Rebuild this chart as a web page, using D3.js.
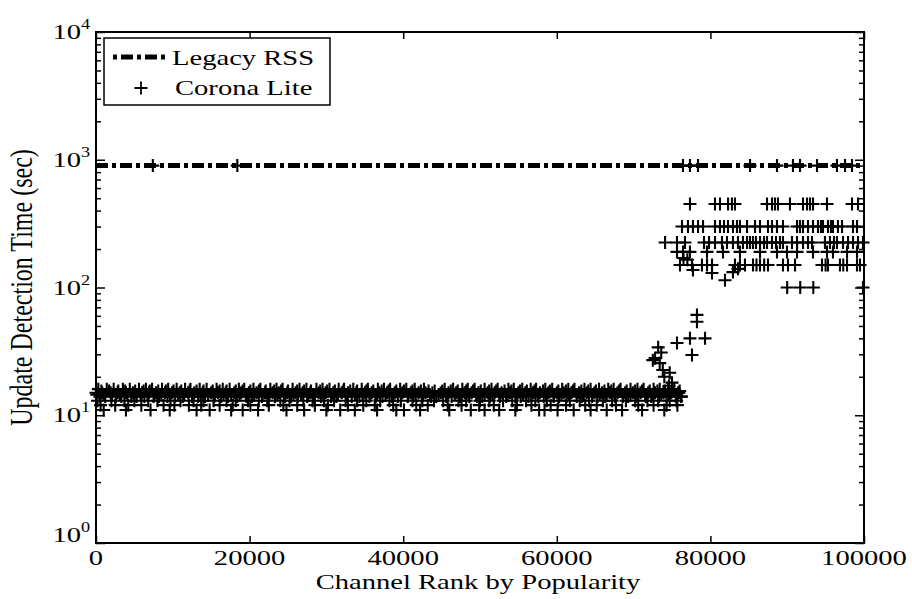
<!DOCTYPE html>
<html>
<head>
<meta charset="utf-8">
<script src="https://cdn.jsdelivr.net/npm/d3@7"></script>
<style>
  body { margin: 0; background: #fff; }
  text { font-family: "Liberation Serif", "Times New Roman", serif; fill: #000; }
</style>
</head>
<body>
<div id="chart"></div>
<script>
// ---- data ----
var xTicks = [0, 20000, 40000, 60000, 80000, 100000];
var yExponents = [0, 1, 2, 3, 4];

var legacyRanks = [0, 100000];
var legacyValues = [900, 900];

// Corona Lite: popular channels, grouped by detection time level (sec)
var bandLevels = [16, 15.5, 15, 14.5, 14, 13, 12, 11];
var bandRanks = [
  [300, 1400, 2300, 3500, 4400, 5600, 6500, 7300, 8600, 9400, 10500, 11600, 12300, 13500, 14400, 15700, 16500, 17400, 18600, 19300,
   20500, 21400, 22700, 23500, 24300, 25600, 26500, 27400, 28700, 29500, 30400, 31600, 32300, 33500, 34600, 35400, 36700, 37500, 38300, 39600,
   40400, 41500, 42700, 45400, 46500, 47700, 48400, 49300, 50600, 51500, 52300, 53700, 54400, 55500, 56600, 57300, 58500, 59400,
   60700, 61500, 62300, 63600, 64400, 65500, 66700, 67400, 68300, 69600, 70500, 71300, 72600, 73400, 74500, 75300],
  [700, 1700, 2900, 3800, 5100, 6200, 7000, 8100, 9100, 10100, 11100, 12200, 13100, 14000, 15200, 16100, 17000, 18200, 19100, 20100,
   21200, 22100, 23200, 24100, 25000, 26200, 27100, 28000, 29200, 30100, 31100, 32200, 33100, 34000, 35200, 36100, 37200, 38100, 39100, 40100,
   41200, 42300, 43300, 44100, 45100, 46200, 47100, 48200, 49100, 50100, 51200, 52100, 53200, 54100, 55200, 56100, 57100, 58200, 59100, 60200,
   61200, 62100, 63200, 64100, 65100, 66200, 67100, 68100, 69100, 70200, 71100, 72100, 73100, 74100, 75100, 76000],
  [0, 800, 1900, 2800, 3900, 4800, 6000, 6900, 7800, 9000, 9900, 10900, 12000, 12800, 13900, 15000, 15900, 16900, 18000, 18900,
   19900, 20900, 22000, 23000, 23800, 24900, 26000, 26900, 27900, 29000, 29900, 30900, 32000, 32800, 33900, 35000, 35900, 36900, 37900, 38900,
   39900, 41000, 42000, 42900, 43800, 44900, 45900, 46900, 48000, 48900, 49800, 51000, 51900, 52800, 53900, 55000, 55900, 56900, 57800, 58900,
   60000, 60900, 61900, 62900, 63900, 64900, 65900, 66900, 67900, 68900, 69900, 70900, 71900, 72800, 73900, 74900, 75800],
  [100, 1000, 2100, 3100, 4100, 5000, 5800, 6700, 7600, 8500, 9600, 10700, 11500, 12600, 13600, 14600, 15500, 16600, 17600, 18700,
   19500, 20600, 21700, 22600, 23600, 24500, 25700, 26700, 27600, 28500, 29600, 30700, 31500, 32600, 33700, 34700, 35700, 36600, 37700, 38700,
   39700, 40700, 41600, 42600, 43500, 44600, 45700, 46700, 47600, 48500, 49500, 50600, 51600, 52500, 53600, 54700, 55600, 56600, 57500, 58600,
   59600, 60600, 61600, 62600, 63500, 64600, 65600, 66500, 67500, 68600, 69600, 70600, 71500, 72500, 73600, 74600, 75600],
  [500, 1200, 2600, 3300, 4600, 5300, 6300, 7500, 8200, 9300, 10300, 11300, 12500, 13300, 14200, 15400, 16300, 17200, 18400, 19600,
   20300, 21600, 22400, 23300, 24600, 25400, 26300, 27500, 28300, 29300, 30600, 31300, 32600, 33300, 34300, 35600, 36400, 37300, 38500, 39300,
   40600, 41300, 42400, 43600, 44300, 45600, 46300, 47400, 48600, 49600, 50300, 51300, 52600, 53400, 54600, 55300, 56300, 57600, 58300, 59600,
   60300, 61300, 62600, 63300, 64600, 65300, 66300, 67600, 68600, 69300, 70300, 71600, 72300, 73300, 74300, 75500, 76200],
  [200, 2000, 3700, 5000, 6800, 8000, 9700, 11000, 12700, 14000, 15300, 17000, 18200, 19800, 21200, 22300, 24000, 25200, 27000, 28200,
   29700, 31000, 32500, 34000, 35200, 37000, 38200, 39700, 41200, 42500, 44000, 45200, 47200, 48200, 50000, 51200, 53000, 54200, 56000, 57200,
   58700, 60200, 61700, 63000, 64200, 66000, 67200, 69000, 70200, 71800, 73200, 74700, 75600],
  [600, 2500, 4200, 5900, 8800, 10200, 12100, 13700, 16100, 17800, 20100, 22500, 24400, 26200, 28500, 30200, 32800, 34800, 36300, 38700,
   41700, 43200, 45800, 47600, 49900, 51800, 54800, 56700, 59200, 61200, 63700, 65200, 67700, 70600, 72600, 74300, 75700],
  [1000, 3900, 7100, 9600, 13100, 14800, 17600, 19100, 21100, 24800, 27100, 30000, 31800, 33700, 36600, 39100, 40100, 42200, 46000, 48800,
   50600, 52500, 54600, 57700, 58400, 60100, 62200, 64400, 66500, 68500, 71100, 74000]
];

// less popular channels, grouped by level
var upperLevels = [450, 300, 225, 190, 150, 100];
var upperRanks = [
  [77340, 80600, 81250, 82300, 82800, 83200, 87370, 88020, 88410, 88800, 90360, 92060, 92580, 92970, 93360, 95180, 98440, 99220],
  [76300, 77080, 77730, 78390, 79040, 80600, 81250, 81770, 82290, 82940, 83460, 83850, 84770, 85810, 86460, 87500, 88020, 88670, 89450,
   91280, 91670, 92060, 92710, 93360, 94010, 94400, 94660, 95310, 95700, 95960, 96610, 97140, 98570, 99090],
  [74100, 75650, 76690, 79170, 79820, 80600, 81510, 82160, 82940, 83590, 84240, 84770, 85160, 85550, 85940, 86460, 86980, 87370, 88020,
   88540, 89060, 89450, 90620, 91280, 92060, 92710, 93230, 94920, 95570, 96090, 96480, 97270, 97920, 98570, 99220, 99870],
  [75650, 76430, 77340, 79560, 81640, 83850, 86460, 88670, 89970, 91280, 93360, 95180, 95960, 97790, 99090],
  [76040, 77600, 78900, 79560, 80210, 83200, 83850, 84500, 85550, 86000, 86460, 87000, 87500, 89450, 90100, 91020, 94530, 95000, 95310, 96870,
   97300, 97790, 99090, 99480],
  [90000, 91700, 93400, 99870]
];

// transition region and scattered points
var scatterRanks = [72500, 72800, 73200, 73400, 73600, 73800, 74000, 74600, 74700, 75000, 75650, 75900, 76200, 77340, 77600, 78250, 78250, 79300,
  76500, 77000, 77730, 80210, 81900, 82940, 83590];
var scatterValues = [27, 28, 34, 25.6, 31, 22.6, 20, 17, 21.5, 18, 36.8, 15, 14, 40, 29.6, 61, 54, 40,
  170, 165, 137, 130, 114, 132, 140];

// Corona Lite points that coincide with the legacy 900 s line
var slowRanks = [7400, 18400, 76430, 77340, 78390, 85160, 88670, 90750, 91670, 93880, 96480, 97530, 98440];

// ---- chart ----
var svgWidth = 912;
var svgHeight = 599;
var margin = { top: 32, right: 48, bottom: 56, left: 96 };
var width = svgWidth - margin.left - margin.right;
var height = svgHeight - margin.top - margin.bottom;
var stretch = 1.3; // text in the source figure is widened

var svg = d3.select("#chart")
  .append("svg")
  .attr("width", svgWidth)
  .attr("height", svgHeight);

var chartGroup = svg.append("g")
  .attr("transform", `translate(${margin.left}, ${margin.top})`);

var x = d3.scaleLinear().domain([0, 100000]).range([0, width]);
var y = d3.scaleLog().domain([1, 10000]).range([height, 0]);

// minor log ticks
var minorTicks = [];
yExponents.slice(0, -1).forEach(function(e) {
  for (var k = 2; k <= 9; k++) minorTicks.push(k * Math.pow(10, e));
});
var majorTicks = yExponents.map(function(e) { return Math.pow(10, e); });

function tickAxis(axis, cls) {
  var g = chartGroup.append("g").attr("class", cls).call(axis);
  g.select(".domain").remove();
  g.selectAll("line").attr("stroke", "#000").attr("stroke-width", 1.5);
  return g;
}

tickAxis(d3.axisBottom(x).tickValues(xTicks).tickSize(-7).tickFormat(""), "xb")
  .attr("transform", `translate(0, ${height})`);
tickAxis(d3.axisTop(x).tickValues(xTicks).tickSize(-7).tickFormat(""), "xt");
tickAxis(d3.axisLeft(y).tickValues(majorTicks).tickSize(-9).tickFormat(""), "yl");
tickAxis(d3.axisLeft(y).tickValues(minorTicks).tickSize(-5).tickFormat(""), "ylm");
tickAxis(d3.axisRight(y).tickValues(majorTicks).tickSize(-9).tickFormat(""), "yr")
  .attr("transform", `translate(${width}, 0)`);
tickAxis(d3.axisRight(y).tickValues(minorTicks).tickSize(-5).tickFormat(""), "yrm")
  .attr("transform", `translate(${width}, 0)`);

// frame
chartGroup.append("rect")
  .attr("width", width)
  .attr("height", height)
  .attr("fill", "none")
  .attr("stroke", "#000")
  .attr("stroke-width", 2);

// x tick labels
chartGroup.selectAll(".xlabel")
  .data(xTicks)
  .enter()
  .append("text")
  .attr("class", "xlabel")
  .attr("transform", d => `translate(${x(d)}, ${height + 22}) scale(${stretch}, 1)`)
  .style("text-anchor", "middle")
  .style("font-size", "22px")
  .text(d => d);

// y tick labels 10^n
var yLab = chartGroup.selectAll(".ylabel")
  .data(yExponents)
  .enter()
  .append("g")
  .attr("class", "ylabel")
  .attr("transform", d => `translate(-15, ${y(Math.pow(10, d)) + (d === 0 ? -1 : 7)}) scale(${stretch}, 1)`);
yLab.append("text")
  .style("text-anchor", "end")
  .style("font-size", "22px")
  .text("10");
yLab.append("text")
  .attr("y", -10)
  .style("font-size", "14px")
  .text(d => d);

// axis titles
chartGroup.append("text")
  .attr("transform", `translate(${width / 2 - 2}, ${height + 46}) scale(${stretch}, 1)`)
  .style("text-anchor", "middle")
  .style("font-size", "22px")
  .text("Channel Rank by Popularity");

chartGroup.append("text")
  .attr("transform", `translate(${32 - margin.left}, ${height / 2}) scale(${stretch}, 1) rotate(-90)`)
  .style("text-anchor", "middle")
  .style("font-size", "24px")
  .text("Update Detection Time (sec)");

// legacy RSS line
var line = d3.line()
  .x(d => x(d[0]))
  .y(d => y(d[1]));

chartGroup.append("path")
  .datum(legacyRanks.map((r, i) => [r, legacyValues[i]]))
  .attr("d", line)
  .attr("fill", "none")
  .attr("stroke", "#000")
  .attr("stroke-width", 5)
  .attr("stroke-dasharray", "12,4,4,4");

// Corona Lite points
var points = [];
bandLevels.forEach(function(v, i) {
  bandRanks[i].forEach(function(r) { points.push({ rank: r, value: v }); });
});
upperLevels.forEach(function(v, i) {
  upperRanks[i].forEach(function(r) { points.push({ rank: r, value: v }); });
});
scatterRanks.forEach(function(r, i) { points.push({ rank: r, value: scatterValues[i] }); });
slowRanks.forEach(function(r) { points.push({ rank: r, value: 900 }); });

var plusPath = "M-6.5,0H6.5M0,-6.5V6.5";

chartGroup.selectAll(".pt")
  .data(points)
  .enter()
  .append("path")
  .attr("class", "pt")
  .attr("transform", d => `translate(${x(d.rank)}, ${y(d.value)})`)
  .attr("d", plusPath)
  .attr("fill", "none")
  .attr("stroke", "#000")
  .attr("stroke-width", 2.1);

// legend
var legend = chartGroup.append("g")
  .attr("transform", "translate(8, 6)");

legend.append("rect")
  .attr("width", 226)
  .attr("height", 67)
  .attr("fill", "#fff")
  .attr("stroke", "#000")
  .attr("stroke-width", 1.5);

legend.append("line")
  .attr("x1", 9).attr("x2", 63)
  .attr("y1", 19).attr("y2", 19)
  .attr("stroke", "#000")
  .attr("stroke-width", 5)
  .attr("stroke-dasharray", "4,4,12,4");

legend.append("text")
  .attr("transform", `translate(68, 27) scale(${stretch}, 1)`)
  .style("font-size", "22px")
  .text("Legacy RSS");

legend.append("path")
  .attr("transform", "translate(37, 50)")
  .attr("d", plusPath)
  .attr("fill", "none")
  .attr("stroke", "#000")
  .attr("stroke-width", 1.8);

legend.append("text")
  .attr("transform", `translate(71, 57) scale(${stretch}, 1)`)
  .style("font-size", "22px")
  .text("Corona Lite");
</script>
</body>
</html>
